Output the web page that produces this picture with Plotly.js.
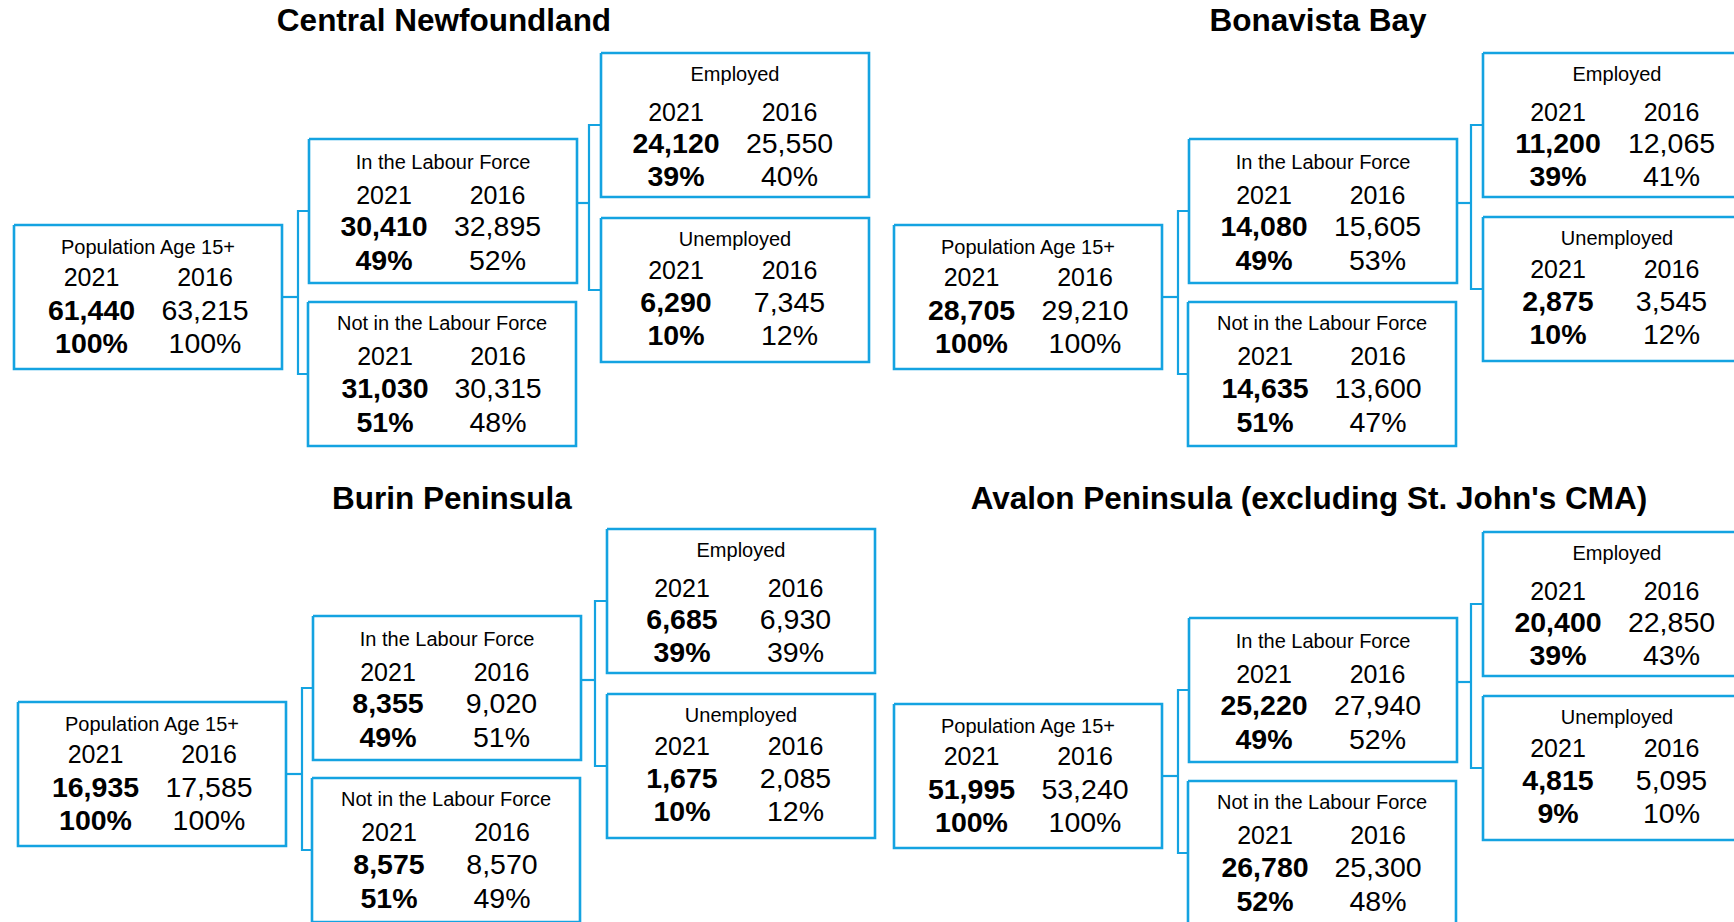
<!DOCTYPE html>
<html>
<head>
<meta charset="utf-8">
<script src="https://cdn.plot.ly/plotly-3.0.1.min.js"></script>
<style>
  html, body { margin: 0; padding: 0; background: #ffffff; }
  #chart { width: 1734px; height: 922px; }
</style>
</head>
<body>
<div id="chart"></div>
<script>
// ---------------- DATA ----------------
const regions = [
  "Central Newfoundland",
  "Bonavista Bay",
  "Burin Peninsula",
  "Avalon Peninsula (excluding St. John's CMA)"
];
const categories = [
  "Population Age 15+",
  "In the Labour Force",
  "Not in the Labour Force",
  "Employed",
  "Unemployed"
];
const years = ["2021", "2016"];

const centralCount2021 = [61440, 30410, 31030, 24120, 6290];
const centralCount2016 = [63215, 32895, 30315, 25550, 7345];
const centralPct2021   = [100, 49, 51, 39, 10];
const centralPct2016   = [100, 52, 48, 40, 12];

const bonavistaCount2021 = [28705, 14080, 14635, 11200, 2875];
const bonavistaCount2016 = [29210, 15605, 13600, 12065, 3545];
const bonavistaPct2021   = [100, 49, 51, 39, 10];
const bonavistaPct2016   = [100, 53, 47, 41, 12];

const burinCount2021 = [16935, 8355, 8575, 6685, 1675];
const burinCount2016 = [17585, 9020, 8570, 6930, 2085];
const burinPct2021   = [100, 49, 51, 39, 10];
const burinPct2016   = [100, 51, 49, 39, 12];

const avalonCount2021 = [51995, 25220, 26780, 20400, 4815];
const avalonCount2016 = [53240, 27940, 25300, 22850, 5095];
const avalonPct2021   = [100, 49, 52, 39, 9];
const avalonPct2016   = [100, 52, 48, 43, 10];

const count2021 = [centralCount2021, bonavistaCount2021, burinCount2021, avalonCount2021];
const count2016 = [centralCount2016, bonavistaCount2016, burinCount2016, avalonCount2016];
const pct2021 = [centralPct2021, bonavistaPct2021, burinPct2021, avalonPct2021];
const pct2016 = [centralPct2016, bonavistaPct2016, burinPct2016, avalonPct2016];

// ---------------- LAYOUT GEOMETRY (diagram placement) ----------------
const W = 1734, H = 922;
const BOX_W = 268, BOX_H = 144;
const BLUE = "rgb(20,163,225)";
const FONT = '"Liberation Sans", Arial, Helvetica, sans-serif';

// top-left corner of each box [pop, inLF, notLF, employed, unemployed] per panel
const panelBoxes = [
  [[14, 225], [309, 139], [308, 302], [601, 53], [601, 218]],
  [[894, 225], [1189, 139], [1188, 302], [1483, 53], [1483, 217]],
  [[18, 702], [313, 616], [312, 778], [607, 529], [607, 694]],
  [[894, 704], [1189, 618], [1188, 781], [1483, 532], [1483, 696]]
];
const titlePos = [[444, 31], [1318, 31], [452, 509], [1309, 509]];

// baseline offsets from box top: label, year, value, percent
const rowOffsets = [[29, 61, 95, 128], [30, 65, 97, 131], [28, 63, 96, 130], [28, 68, 100, 133], [28, 61, 94, 127]];
// column centre offsets from box centre: 2021, 2016
const colOffsets = [[-56.5, 57], [-59, 54.5], [-57, 56], [-59, 54.5], [-59, 54.5]];

const SZ_TITLE = 31.5, SZ_LABEL = 20, SZ_YEAR = 25, SZ_VAL = 28.5;
// plotly 'middle' text: baseline sits 0.25*size below the point
const mid = (baseline, size) => baseline - 0.25 * size;
const fmt = n => n.toLocaleString("en-US");

// ---------------- TRACES ----------------
const boxX = [], boxY = [];
const connX = [], connY = [];
const titleT = { x: [], y: [], t: [] };
const labelT = { x: [], y: [], t: [] };
const yearT = { x: [], y: [], t: [] };
const boldT = { x: [], y: [], t: [] };
const regT = { x: [], y: [], t: [] };

regions.forEach((reg, p) => {
  titleT.x.push(titlePos[p][0]);
  titleT.y.push(mid(titlePos[p][1], SZ_TITLE));
  titleT.t.push(reg);

  const boxes = panelBoxes[p];
  categories.forEach((cat, c) => {
    const [x0, y0] = boxes[c];
    const x1 = x0 + BOX_W, y1 = y0 + BOX_H;
    boxX.push(x0, x1, x1, x0, x0, null);
    boxY.push(y0, y0, y1, y1, y0, null);

    const cx = x0 + BOX_W / 2;
    const ro = rowOffsets[c], co = colOffsets[c];
    labelT.x.push(cx); labelT.y.push(mid(y0 + ro[0], SZ_LABEL)); labelT.t.push(cat);
    years.forEach((yr, k) => {
      yearT.x.push(cx + co[k]); yearT.y.push(mid(y0 + ro[1], SZ_YEAR)); yearT.t.push(yr);
    });
    boldT.x.push(cx + co[0]); boldT.y.push(mid(y0 + ro[2], SZ_VAL)); boldT.t.push(fmt(count2021[p][c]));
    boldT.x.push(cx + co[0]); boldT.y.push(mid(y0 + ro[3], SZ_VAL)); boldT.t.push(pct2021[p][c] + "%");
    regT.x.push(cx + co[1]); regT.y.push(mid(y0 + ro[2], SZ_VAL)); regT.t.push(fmt(count2016[p][c]));
    regT.x.push(cx + co[1]); regT.y.push(mid(y0 + ro[3], SZ_VAL)); regT.t.push(pct2016[p][c] + "%");
  });

  // connector: population -> in / not in labour force
  const pop = boxes[0], lf = boxes[1], nlf = boxes[2], emp = boxes[3], un = boxes[4];
  const bx1 = lf[0] - 11;
  const popMid = pop[1] + BOX_H / 2;
  const lfMid = lf[1] + BOX_H / 2, nlfMid = nlf[1] + BOX_H / 2;
  connX.push(pop[0] + BOX_W, bx1, null);  connY.push(popMid, popMid, null);
  connX.push(lf[0], bx1, bx1, nlf[0], null); connY.push(lfMid, lfMid, nlfMid, nlfMid, null);
  // connector: labour force -> employed / unemployed
  const bx2 = emp[0] - 12;
  const jY = lf[1] + 64;
  const empMid = emp[1] + BOX_H / 2, unMid = un[1] + BOX_H / 2;
  connX.push(lf[0] + BOX_W, bx2, null); connY.push(jY, jY, null);
  connX.push(emp[0], bx2, bx2, un[0], null); connY.push(empMid, empMid, unMid, unMid, null);
});

const textTrace = (obj, size, weight) => ({
  type: "scatter", mode: "text", x: obj.x, y: obj.y, text: obj.t,
  textposition: "middle center", hoverinfo: "skip", showlegend: false,
  textfont: { family: FONT, size: size, color: "#000000", weight: weight }
});

const data = [
  { type: "scatter", mode: "lines", x: connX, y: connY, hoverinfo: "skip", showlegend: false,
    line: { color: BLUE, width: 2.2 } },
  { type: "scatter", mode: "lines", x: boxX, y: boxY, hoverinfo: "skip", showlegend: false,
    line: { color: BLUE, width: 2.6 } },
  textTrace(titleT, SZ_TITLE, 700),
  textTrace(labelT, SZ_LABEL, 400),
  textTrace(yearT, SZ_YEAR, 400),
  textTrace(boldT, SZ_VAL, 700),
  textTrace(regT, SZ_VAL, 400)
];

const layout = {
  width: W, height: H, autosize: false,
  margin: { l: 0, r: 0, t: 0, b: 0, pad: 0 },
  paper_bgcolor: "#ffffff", plot_bgcolor: "#ffffff",
  showlegend: false, hovermode: false,
  xaxis: { range: [0, W], visible: false, fixedrange: true },
  yaxis: { range: [H, 0], visible: false, fixedrange: true }
};

Plotly.newPlot("chart", data, layout, { staticPlot: true, displayModeBar: false });
</script>
</body>
</html>
